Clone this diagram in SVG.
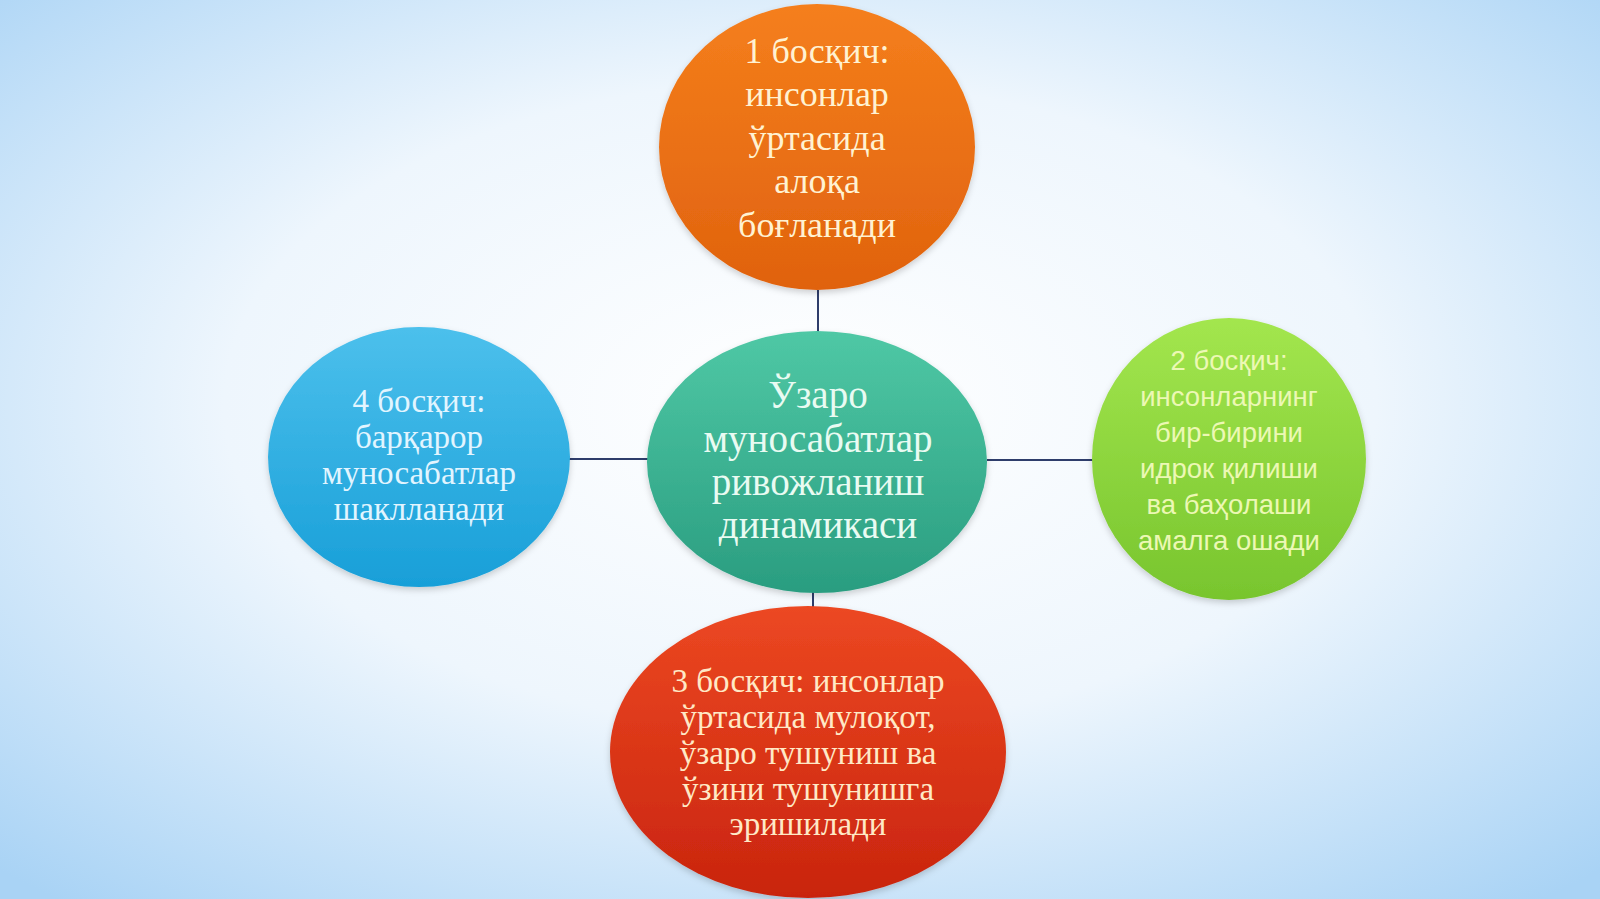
<svg xmlns="http://www.w3.org/2000/svg" width="1600" height="899" viewBox="0 0 1600 899">
<defs>
<radialGradient id="bg" cx="0.5" cy="0.45" r="0.72">
<stop offset="0" stop-color="#ffffff"/>
<stop offset="0.5" stop-color="#eef6fd"/>
<stop offset="1" stop-color="#a9d3f5"/>
</radialGradient>
<linearGradient id="gOrange" x1="0" y1="0" x2="0" y2="1">
<stop offset="0" stop-color="#f57f1c"/>
<stop offset="1" stop-color="#e0620e"/>
</linearGradient>
<linearGradient id="gTeal" x1="0" y1="0" x2="0" y2="1">
<stop offset="0" stop-color="#4fc8a5"/>
<stop offset="1" stop-color="#2a9d80"/>
</linearGradient>
<linearGradient id="gBlue" x1="0" y1="0" x2="0" y2="1">
<stop offset="0" stop-color="#4cc0ec"/>
<stop offset="1" stop-color="#189fd8"/>
</linearGradient>
<linearGradient id="gGreen" x1="0" y1="0" x2="0" y2="1">
<stop offset="0" stop-color="#a3e64e"/>
<stop offset="1" stop-color="#78c52e"/>
</linearGradient>
<linearGradient id="gRed" x1="0" y1="0" x2="0" y2="1">
<stop offset="0" stop-color="#ec4822"/>
<stop offset="1" stop-color="#c9240e"/>
</linearGradient>
<filter id="sh" x="-10%" y="-10%" width="120%" height="125%">
<feDropShadow dx="0" dy="3" stdDeviation="3" flood-color="#000" flood-opacity="0.18"/>
</filter>
</defs>
<style>
.serif{font-family:"Liberation Serif","DejaVu Serif",serif;text-anchor:middle}
.sans{font-family:"Liberation Sans","DejaVu Sans",sans-serif;text-anchor:middle}
.conn{stroke:#2e3d6b;stroke-width:2;fill:none}
</style>
<rect width="1600" height="899" fill="url(#bg)"/>
<g id="connectors">
<line class="conn" x1="818" y1="290" x2="818" y2="332"/>
<line class="conn" x1="813" y1="592" x2="813" y2="607"/>
<line class="conn" x1="569" y1="459" x2="648" y2="459"/>
<line class="conn" x1="987" y1="460" x2="1093" y2="460"/>
</g>
<g id="node-stage1">
<ellipse cx="817" cy="147" rx="158" ry="143" fill="url(#gOrange)" filter="url(#sh)"/>
<text class="serif" font-size="36" fill="#fff2d2"><tspan x="817" y="63">1 босқич:</tspan><tspan x="817" y="106">инсонлар</tspan><tspan x="817" y="150">ўртасида</tspan><tspan x="817" y="193">алоқа</tspan><tspan x="817" y="237">боғланади</tspan></text>
</g>
<g id="node-center">
<ellipse cx="817" cy="462" rx="170" ry="131" fill="url(#gTeal)" filter="url(#sh)"/>
<text class="serif" font-size="39" fill="#e9fbf2"><tspan x="818" y="408">Ўзаро</tspan><tspan x="818" y="452">муносабатлар</tspan><tspan x="818" y="495">ривожланиш</tspan><tspan x="818" y="538">динамикаси</tspan></text>
</g>
<g id="node-stage2">
<ellipse cx="1229" cy="459" rx="137" ry="141" fill="url(#gGreen)" filter="url(#sh)"/>
<text class="sans" font-size="27.5" fill="#ecf8b4"><tspan x="1229" y="370">2 босқич:</tspan><tspan x="1229" y="406">инсонларнинг</tspan><tspan x="1229" y="442">бир-бирини</tspan><tspan x="1229" y="478">идрок қилиши</tspan><tspan x="1229" y="514">ва баҳолаши</tspan><tspan x="1229" y="550">амалга ошади</tspan></text>
</g>
<g id="node-stage4">
<ellipse cx="419" cy="457" rx="151" ry="130" fill="url(#gBlue)" filter="url(#sh)"/>
<text class="serif" font-size="33" fill="#e2f5ff"><tspan x="419" y="412">4 босқич:</tspan><tspan x="419" y="448">барқарор</tspan><tspan x="419" y="484">муносабатлар</tspan><tspan x="419" y="520">шаклланади</tspan></text>
</g>
<g id="node-stage3">
<ellipse cx="808" cy="752" rx="198" ry="146" fill="url(#gRed)" filter="url(#sh)"/>
<text class="serif" font-size="33" fill="#ffe9c6"><tspan x="808" y="692">3 босқич: инсонлар</tspan><tspan x="808" y="728">ўртасида мулоқот,</tspan><tspan x="808" y="764">ўзаро тушуниш ва</tspan><tspan x="808" y="800">ўзини тушунишга</tspan><tspan x="808" y="835">эришилади</tspan></text>
</g>
</svg>
